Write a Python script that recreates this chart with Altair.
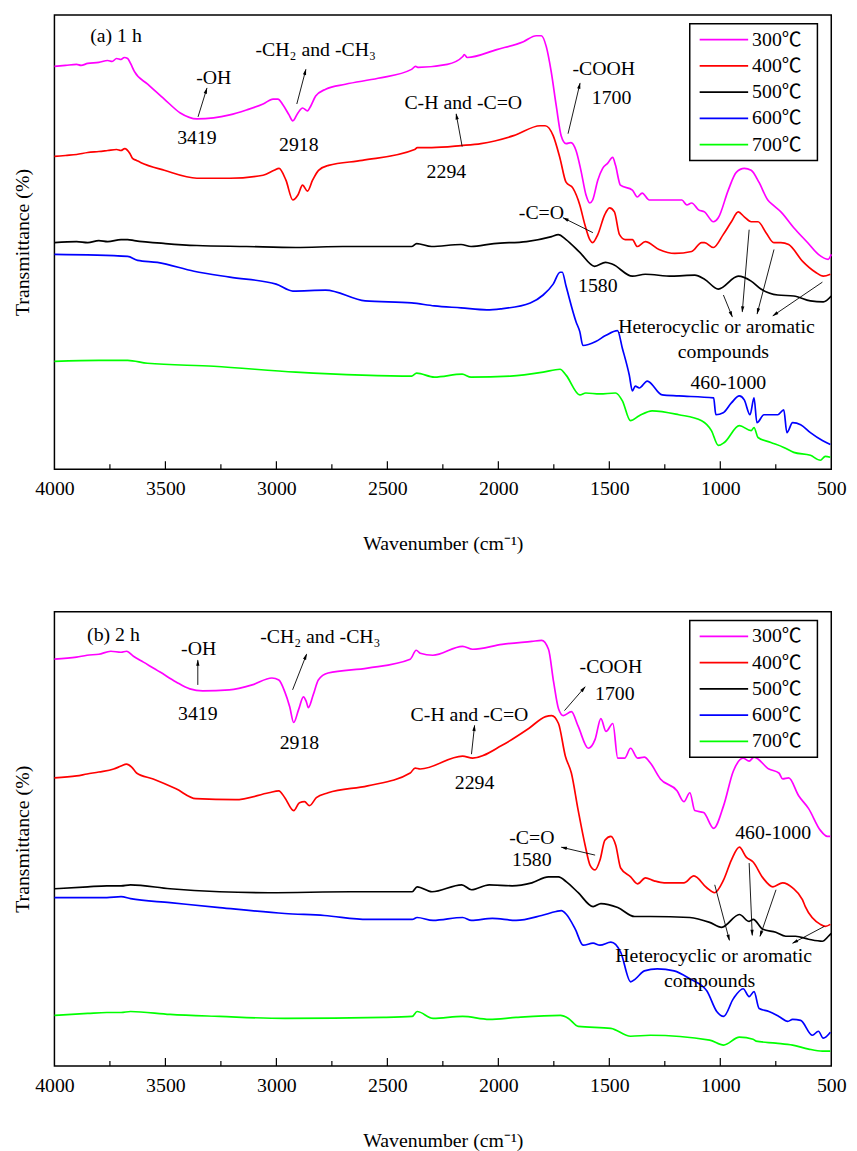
import math
import altair as alt
import pandas as pd

W = 785
H = 459
FONT = "Liberation Serif"
LEG_FONT = "Liberation Serif, Noto Sans CJK SC"
FS = 20
TEMPS = ["300℃", "400℃", "500℃", "600℃", "700℃"]
COLORS = ["#FF00FF", "#FF0000", "#000000", "#0000FF", "#00FF00"]
X_LABELS = [4000, 3500, 3000, 2500, 2000, 1500, 1000, 500]
MAJOR_TICKS = [3500, 3000, 2500, 2000, 1500, 1000]
MINOR_TICKS = [3750, 3250, 2750, 2250, 1750, 1250, 750]

# ---------------- panel (a) 1 h : (wavenumber, transmittance a.u.) ----------------
A_300 = [(4000, 404), (3950, 405), (3900, 406), (3880, 405), (3850, 407), (3800, 408), (3760, 410),
         (3740, 409), (3720, 412), (3700, 411), (3685, 413), (3670, 412), (3657, 407), (3640, 399),
         (3580, 386), (3505, 371), (3433, 357), (3358, 351), (3283, 352), (3210, 355), (3135, 360),
         (3060, 366), (3015, 371), (2993, 371), (2970, 365), (2943, 355), (2926, 349), (2903, 357),
         (2882, 362), (2860, 359), (2845, 364), (2823, 374), (2778, 381), (2689, 386), (2542, 392),
         (2391, 401), (2373, 404), (2360, 403), (2230, 406), (2160, 414), (2154, 416), (2140, 413),
         (2007, 421), (1887, 429), (1829, 435), (1806, 435), (1784, 424), (1762, 399), (1739, 364),
         (1717, 334), (1695, 326), (1673, 327), (1650, 319), (1628, 299), (1605, 274), (1588, 266),
         (1575, 269), (1552, 289), (1530, 301), (1508, 306), (1485, 312), (1472, 304), (1450, 284),
         (1396, 279), (1374, 272), (1352, 276), (1320, 269), (1276, 269), (1218, 269), (1173, 269),
         (1151, 264), (1129, 266), (1098, 259), (1071, 257), (1031, 247), (1009, 251), (964, 279),
         (928, 297), (892, 301), (861, 299), (826, 287), (786, 269), (763, 264), (727, 257),
         (669, 241), (607, 226), (558, 214), (514, 209), (500, 214)]
A_400 = [(4000, 313), (3950, 314), (3900, 315), (3850, 317), (3800, 318), (3760, 319), (3720, 320),
         (3700, 319), (3683, 321), (3660, 316), (3648, 311), (3630, 309), (3612, 307), (3505, 299),
         (3358, 291), (3210, 291), (3060, 294), (3010, 299), (2988, 301), (2957, 289), (2926, 269),
         (2903, 274), (2882, 284), (2860, 278), (2837, 289), (2810, 299), (2765, 304), (2613, 309),
         (2377, 320), (2365, 322), (2300, 322), (2168, 324), (2078, 326), (1931, 334), (1811, 344),
         (1789, 344), (1753, 334), (1722, 311), (1695, 287), (1664, 281), (1633, 264), (1610, 244),
         (1588, 229), (1575, 226), (1552, 234), (1521, 254), (1499, 261), (1477, 257), (1454, 234),
         (1428, 229), (1396, 229), (1374, 222), (1338, 227), (1276, 219), (1205, 215), (1129, 217),
         (1084, 226), (1071, 226), (1031, 221), (987, 234), (950, 247), (919, 257), (892, 252),
         (861, 247), (830, 247), (794, 236), (759, 226), (727, 226), (692, 224), (629, 207),
         (571, 196), (536, 192), (504, 194)]
A_500 = [(4000, 226), (3900, 227), (3850, 226), (3800, 228), (3760, 227), (3700, 229), (3670, 229),
         (3640, 228), (3500, 225), (3358, 223), (3135, 222), (2912, 221), (2700, 222), (2391, 222),
         (2368, 225), (2301, 222), (2168, 224), (2123, 222), (2020, 225), (1873, 227), (1760, 232),
         (1730, 234), (1695, 229), (1633, 216), (1566, 202), (1517, 206), (1485, 204), (1396, 192),
         (1338, 194), (1218, 192), (1115, 193), (1071, 189), (1009, 179), (919, 192), (861, 187),
         (817, 179), (741, 173), (669, 172), (594, 167), (536, 166), (500, 172)]
A_600 = [(4000, 214), (3670, 212), (3625, 208), (3536, 206), (3371, 197), (3210, 191), (3001, 184),
         (2926, 177), (2778, 178), (2600, 167), (2391, 165), (2288, 162), (2168, 160), (2052, 158),
         (1989, 159), (1856, 165), (1798, 173), (1753, 184), (1722, 196), (1712, 196), (1695, 182),
         (1650, 146), (1633, 136), (1619, 122), (1561, 126), (1517, 132), (1463, 137), (1441, 119),
         (1410, 92), (1396, 76), (1383, 81), (1365, 79), (1329, 86), (1262, 72), (1187, 71),
         (1030, 69), (1020, 52), (987, 54), (950, 64), (914, 71), (892, 67), (866, 52), (848, 69),
         (835, 44), (803, 52), (741, 52), (714, 57), (700, 34), (674, 44), (638, 42), (594, 34),
         (540, 26), (504, 22)]
A_700 = [(4000, 106), (3800, 107), (3670, 107), (3581, 104), (3282, 101), (2912, 95), (2613, 92),
         (2391, 91), (2368, 94), (2288, 90), (2163, 93), (2123, 90), (1945, 91), (1798, 95),
         (1722, 98), (1695, 92), (1633, 72), (1606, 74), (1543, 73), (1472, 74), (1441, 66),
         (1405, 46), (1365, 51), (1307, 56), (1187, 52), (1084, 46), (1040, 36), (1009, 21),
         (982, 24), (914, 41), (861, 36), (848, 39), (830, 29), (772, 24), (714, 19), (669, 14),
         (594, 11), (549, 6), (527, 10), (504, 9)]

# ---------------- panel (b) 2 h ----------------
B_300 = [(4000, 411), (3900, 413), (3853, 415), (3800, 416), (3746, 419), (3700, 418), (3675, 419),
         (3644, 414), (3599, 408), (3524, 398), (3452, 388), (3390, 381), (3332, 379), (3212, 380),
         (3109, 385), (3020, 392), (2989, 390), (2962, 378), (2940, 363), (2922, 347), (2900, 360),
         (2878, 373), (2865, 368), (2856, 362), (2834, 375), (2811, 390), (2767, 397), (2589, 402),
         (2397, 411), (2370, 420), (2352, 417), (2295, 415), (2161, 424), (2116, 421), (1983, 426),
         (1849, 429), (1805, 430), (1774, 421), (1751, 388), (1729, 361), (1707, 354), (1671, 358),
         (1640, 343), (1595, 321), (1564, 330), (1538, 351), (1515, 338), (1484, 346), (1462, 311),
         (1431, 311), (1404, 321), (1373, 311), (1342, 312), (1315, 306), (1270, 290), (1195, 278),
         (1164, 267), (1137, 276), (1115, 258), (1075, 256), (1030, 240), (985, 263), (941, 298),
         (897, 311), (870, 308), (848, 312), (781, 300), (736, 296), (719, 290), (692, 291),
         (647, 273), (602, 260), (549, 238), (518, 232), (504, 232)]
B_400 = [(4000, 291), (3900, 293), (3853, 295), (3800, 297), (3733, 300), (3700, 303), (3675, 305),
         (3652, 302), (3630, 296), (3555, 290), (3452, 280), (3363, 270), (3185, 269), (3034, 276),
         (2989, 278), (2962, 271), (2922, 258), (2896, 266), (2873, 267), (2851, 263), (2820, 271),
         (2767, 276), (2589, 283), (2397, 296), (2375, 301), (2352, 300), (2161, 313), (2116, 311),
         (1983, 324), (1863, 341), (1787, 353), (1760, 354), (1729, 346), (1698, 313), (1671, 296),
         (1640, 258), (1609, 223), (1587, 203), (1564, 198), (1542, 208), (1520, 228), (1493, 232),
         (1471, 223), (1449, 200), (1404, 191), (1373, 184), (1337, 190), (1298, 187), (1253, 185),
         (1164, 185), (1119, 192), (1061, 180), (1026, 175), (985, 188), (950, 208), (914, 221),
         (883, 211), (852, 206), (808, 190), (763, 181), (719, 185), (674, 180), (630, 168),
         (617, 161), (549, 143), (527, 141), (504, 143)]
B_500 = [(4000, 179), (3850, 181), (3764, 182), (3700, 182), (3657, 183), (3479, 179), (3256, 176),
         (3034, 175), (2664, 176), (2388, 176), (2366, 181), (2299, 176), (2165, 183), (2121, 178),
         (2041, 183), (1938, 182), (1849, 185), (1774, 191), (1729, 191), (1693, 186), (1640, 175),
         (1573, 161), (1538, 164), (1462, 160), (1386, 151), (1315, 151), (1137, 150), (1048, 145),
         (994, 140), (914, 153), (870, 146), (852, 148), (808, 138), (750, 135), (705, 131),
         (661, 131), (602, 128), (540, 126), (513, 131), (500, 134)]
B_600 = [(4000, 170), (3850, 170), (3764, 170), (3700, 171), (3657, 169), (3479, 165), (3256, 160),
         (2962, 154), (2784, 152), (2589, 148), (2388, 148), (2366, 150), (2294, 147), (2161, 150),
         (2121, 147), (2027, 149), (1920, 147), (1805, 152), (1740, 156), (1716, 157), (1693, 153),
         (1653, 138), (1618, 122), (1573, 124), (1542, 122), (1493, 125), (1449, 115), (1404, 85),
         (1382, 88), (1342, 96), (1284, 98), (1208, 96), (1137, 88), (1061, 76), (1016, 55),
         (985, 50), (941, 68), (897, 78), (870, 70), (848, 75), (825, 58), (781, 55), (736, 50),
         (696, 45), (674, 47), (638, 46), (585, 31), (558, 35), (536, 28), (504, 34)]
B_700 = [(4000, 51), (3850, 53), (3764, 54), (3700, 54), (3657, 55), (3479, 52), (3256, 50),
         (2962, 48), (2517, 49), (2388, 50), (2366, 55), (2294, 48), (2161, 50), (2041, 47),
         (1920, 49), (1720, 51), (1684, 48), (1640, 40), (1493, 38), (1404, 30), (1315, 31),
         (1048, 26), (985, 21), (914, 29), (852, 27), (839, 25), (750, 23), (674, 21), (602, 17),
         (540, 15), (504, 15)]

# annotations: (text, wavenumber, value)
A_LABEL = ("(a) 1 h", 3839, 435)
A_TEXTS = [("-OH", 3282, 392), ("3419", 3358, 332), ("-CH₂ and -CH₃", 2823, 421), ("2918", 2899, 325),
           ("C-H and -C=O", 2158, 367), ("2294", 2234, 297), ("-COOH", 1525, 401), ("1700", 1490, 372),
           ("-C=O", 1806, 256), ("1580", 1552, 182), ("Heterocyclic or aromatic", 1017, 141),
           ("compounds", 986, 115), ("460-1000", 964, 84)]
# arrows: (tail wn, tail value, head wn, head value)
A_ARROWS = [(3353, 353, 3313, 382), (2908, 366, 2867, 401), (2163, 323, 2190, 356),
            (1686, 336, 1632, 387), (1574, 236, 1708, 251), (986, 173, 946, 151),
            (870, 239, 901, 156), (758, 219, 834, 154), (540, 186, 763, 152)]

B_LABEL = ("(b) 2 h", 3853, 435)
B_TEXTS = [("-OH", 3350, 421), ("3419", 3354, 356), ("-CH₂ and -CH₃", 2802, 433), ("2918", 2896, 326),
           ("C-H and -C=O", 2130, 355), ("2294", 2107, 286), ("-COOH", 1493, 403), ("1700", 1475, 376),
           ("-C=O", 1849, 230), ("1580", 1849, 208), ("460-1000", 762, 235),
           ("Heterocyclic or aromatic", 1030, 111), ("compounds", 1048, 86)]
B_ARROWS = [(3354, 385, 3354, 410), (2927, 380, 2864, 416), (2121, 315, 2107, 344),
            (1702, 359, 1609, 383), (1564, 213, 1716, 221), (1025, 183, 959, 127),
            (870, 205, 856, 132), (749, 178, 821, 131), (531, 141, 674, 124)]


def px2wn(px):
    return 4000 - px * 3500.0 / W


def build_panel(series, ymin, ymax, label, texts, arrows):
    xs = alt.Scale(domain=[500, 4000], reverse=True, nice=False, zero=False)
    ys = alt.Scale(domain=[ymin, ymax], nice=False, zero=False)
    sy = H / float(ymax - ymin)
    sx = W / 3500.0

    def py2v(py):
        return ymax - py / sy

    rows = [{"temp": t, "wn": w, "T": v} for t, pts in zip(TEMPS, series) for (w, v) in pts]
    lines = alt.Chart(pd.DataFrame(rows)).mark_line(strokeWidth=1.7, strokeJoin="round",
                                                    interpolate="monotone").encode(
        x=alt.X("wn:Q", scale=xs, axis=alt.Axis(
            title="Wavenumber (cm⁻¹)", values=X_LABELS, format="d", ticks=False, domain=False,
            grid=False, labelFont=FONT, titleFont=FONT, labelFontSize=FS, titleFontSize=FS,
            labelColor="black", titleColor="black", labelPadding=10, titlePadding=35,
            labelFlush=False, labelOverlap=False, titleFontWeight="normal")),
        y=alt.Y("T:Q", scale=ys, axis=alt.Axis(
            title="Transmittance (%)", labels=False, ticks=False, domain=False, grid=False,
            titleFont=FONT, titleFontSize=FS, titleColor="black", titlePadding=22,
            titleFontWeight="normal")),
        color=alt.Color("temp:N", scale=alt.Scale(domain=TEMPS, range=COLORS), legend=None),
    )

    major = alt.Chart(pd.DataFrame({"wn": MAJOR_TICKS})).mark_rule(color="black", strokeWidth=1.2).encode(
        x=alt.X("wn:Q", scale=xs), y=alt.value(H), y2=alt.value(H - 8))
    minor = alt.Chart(pd.DataFrame({"wn": MINOR_TICKS})).mark_rule(color="black", strokeWidth=1.2).encode(
        x=alt.X("wn:Q", scale=xs), y=alt.value(H), y2=alt.value(H - 5))

    # arrows: shaft + narrow filled head pointing along the shaft
    arr_rows = []
    for (w0, v0, w1, v1) in arrows:
        dx = -(w1 - w0) * sx
        dy = -(v1 - v0) * sy
        L = math.hypot(dx, dy)
        ang = math.degrees(math.atan2(dx, -dy)) % 360
        back = 3.0
        hw = w1 + (dx / L) * back / sx
        hv = v1 + (dy / L) * back / sy
        arr_rows.append({"w0": w0, "v0": v0, "w1": w1, "v1": v1, "hw": hw, "hv": hv, "ang": ang})
    adf = pd.DataFrame(arr_rows)
    shafts = alt.Chart(adf).mark_rule(color="black", strokeWidth=0.9).encode(
        x=alt.X("w0:Q", scale=xs), x2="w1:Q", y=alt.Y("v0:Q", scale=ys), y2="v1:Q")
    heads = alt.Chart(adf).mark_point(shape="M0,-1L0.45,0.7L-0.45,0.7Z", filled=True, color="black",
                                      size=55, opacity=1).encode(
        x=alt.X("hw:Q", scale=xs), y=alt.Y("hv:Q", scale=ys), angle=alt.Angle("ang:Q", scale=None))

    tdf = pd.DataFrame([{"text": t, "wn": w, "T": v} for (t, w, v) in texts])
    ann = alt.Chart(tdf).mark_text(font=FONT, fontSize=FS, color="black", align="center",
                                   baseline="middle").encode(
        x=alt.X("wn:Q", scale=xs), y=alt.Y("T:Q", scale=ys), text="text:N")
    ldf = pd.DataFrame([{"text": label[0], "wn": label[1], "T": label[2]}])
    lab = alt.Chart(ldf).mark_text(font=FONT, fontSize=FS, color="black", align="left",
                                   baseline="middle").encode(
        x=alt.X("wn:Q", scale=xs), y=alt.Y("T:Q", scale=ys), text="text:N")

    # legend (inside, top right)
    box = pd.DataFrame([{"x0": px2wn(642), "x1": px2wn(771), "y0": py2v(9), "y1": py2v(147)}])
    frame = alt.Chart(box).mark_rect(fill="white", stroke="black", strokeWidth=1.5).encode(
        x=alt.X("x0:Q", scale=xs), x2="x1:Q", y=alt.Y("y0:Q", scale=ys), y2="y1:Q")
    leg_rows = [{"temp": t, "x0": px2wn(652), "x1": px2wn(701), "lx": px2wn(705),
                 "y": py2v(25 + i * 26.5)} for i, t in enumerate(TEMPS)]
    legdf = pd.DataFrame(leg_rows)
    sw = alt.Chart(legdf).mark_rule(strokeWidth=1.8).encode(
        x=alt.X("x0:Q", scale=xs), x2="x1:Q", y=alt.Y("y:Q", scale=ys),
        color=alt.Color("temp:N", scale=alt.Scale(domain=TEMPS, range=COLORS), legend=None))
    lt = alt.Chart(legdf).mark_text(font=LEG_FONT, fontSize=FS, color="black", align="left",
                                    baseline="middle").encode(
        x=alt.X("lx:Q", scale=xs), y=alt.Y("y:Q", scale=ys), text="temp:N")

    return alt.layer(lines, major, minor, shafts, heads, ann, lab, frame, sw, lt).properties(
        width=W, height=H)


panel_a = build_panel([A_300, A_400, A_500, A_600, A_700], -3, 456, A_LABEL, A_TEXTS, A_ARROWS)
panel_b = build_panel([B_300, B_400, B_500, B_600, B_700], 0, 459, B_LABEL, B_TEXTS, B_ARROWS)

chart = alt.vconcat(panel_a, panel_b, spacing=57).properties(
    padding={"left": 12, "top": 8, "right": 10, "bottom": 5}
).configure(background="white").configure_view(stroke="black", strokeWidth=1.5)

chart.save("out.html", embed_options={"renderer": "svg", "actions": False})
